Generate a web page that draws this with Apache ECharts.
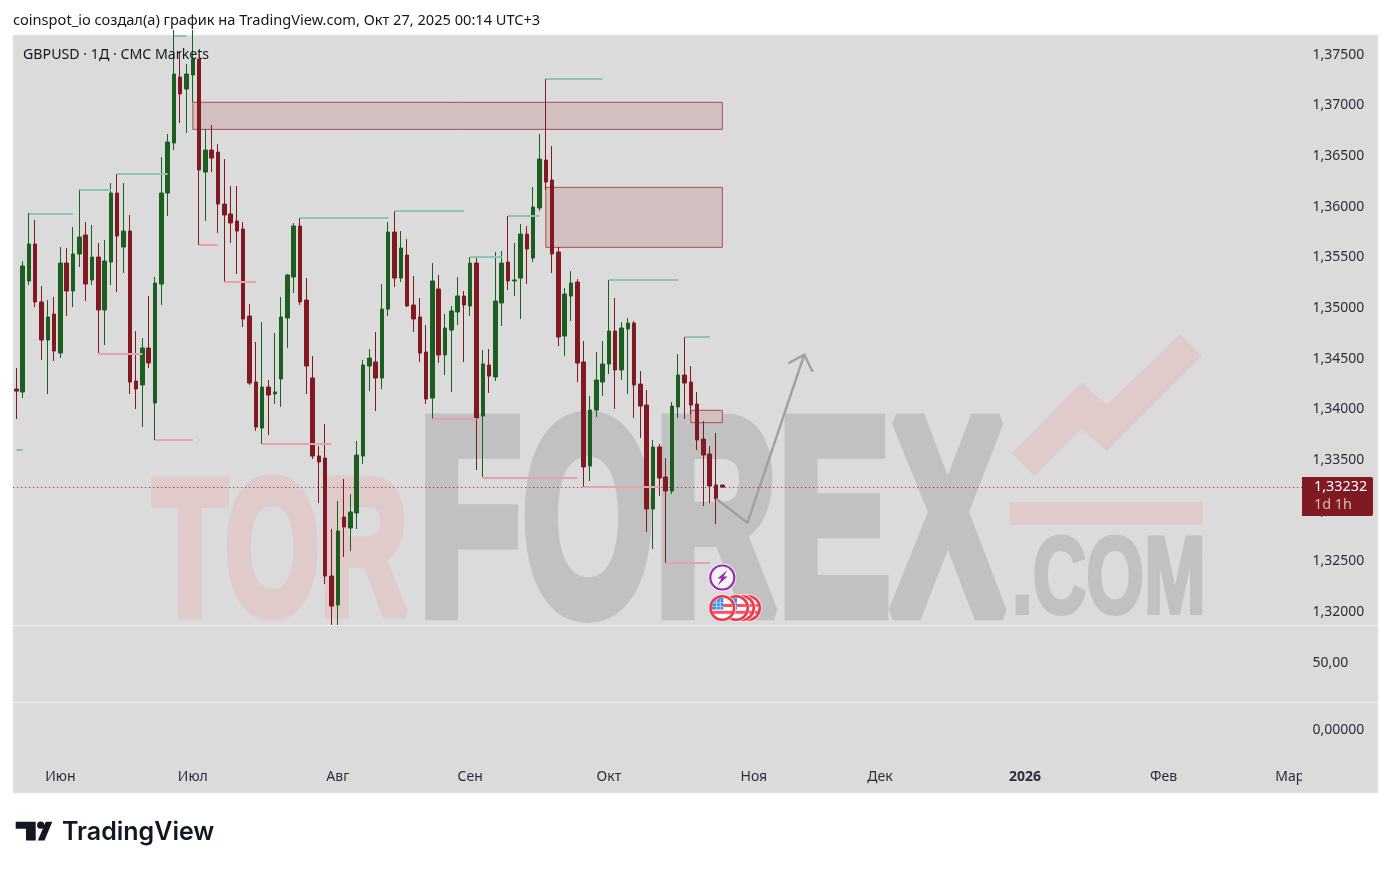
<!DOCTYPE html>
<html>
<head>
<meta charset="utf-8">
<title>GBPUSD</title>
<script src="https://cdn.jsdelivr.net/npm/echarts@6/dist/echarts.min.js"></script>
<style>
  html, body { margin: 0; padding: 0; background: #fff; }
  #chart { width: 1391px; height: 869px; }
</style>
</head>
<body>
<div id="chart"></div>
<script>
// daily bars, 22 May 2025 .. 27 Oct 2025
const opens = [
  1.34200,1.34171,1.35266,1.35631,1.35059,1.34684,1.34940,1.34555,1.35443,1.35167,1.35532,1.35720,
  1.35276,1.35502,1.34980,1.35453,1.36134,1.35601,1.35759,1.34279,1.34240,1.34605,1.34062,1.35236,
  1.36134,1.36627,1.37278,1.37160,1.37298,1.37456,1.36341,1.36558,1.36538,1.36025,1.35927,1.35858,
  1.35779,1.34920,1.34269,1.33815,1.34220,1.34151,1.34299,1.34901,1.35305,1.35808,1.35078,1.34309,
  1.33539,1.33519,1.32355,1.32069,1.32937,1.32829,1.32977,1.33539,1.34427,1.34467,1.34309,1.34989,
  1.35749,1.35295,1.35522,1.35029,1.34911,1.34565,1.34111,1.35187,1.34536,1.34782,1.34960,1.35118,
  1.35019,1.35443,1.33934,1.34437,1.34319,1.35049,1.35453,1.35266,1.35295,1.35729,1.35493,1.35986,
  1.36459,1.36262,1.35552,1.34723,1.35118,1.35256,1.34467,1.33440,1.33993,1.34269,1.34447,1.34772,
  1.34388,1.34792,1.34851,1.34249,1.34042,1.33016,1.33628,1.33332,1.33194,1.34023,1.34338,1.34269,
  1.34052,1.33707,1.33559,1.33253,1.33253
];
const closes = [
  1.34180,1.35414,1.35631,1.35059,1.34684,1.34911,1.34575,1.35443,1.35167,1.35532,1.35700,1.35236,
  1.35502,1.34980,1.35463,1.36134,1.35710,1.35759,1.34269,1.34200,1.34605,1.34457,1.35246,1.36134,
  1.36637,1.37308,1.37111,1.37308,1.37456,1.36361,1.36558,1.36479,1.36025,1.35917,1.35838,1.35759,
  1.34891,1.34259,1.33825,1.34220,1.34141,1.34171,1.34911,1.35325,1.35808,1.35059,1.34427,1.33539,
  1.33480,1.32355,1.32059,1.32799,1.32839,1.32987,1.33549,1.34437,1.34506,1.34309,1.34989,1.35749,
  1.35295,1.35591,1.35019,1.34891,1.34555,1.34102,1.35266,1.34536,1.34802,1.34970,1.35118,1.35029,
  1.35443,1.33914,1.34447,1.34328,1.35068,1.35443,1.35266,1.35276,1.35729,1.35581,1.35996,1.36469,
  1.36242,1.35532,1.34713,1.35137,1.35246,1.34457,1.33431,1.33993,1.34289,1.34447,1.34772,1.34388,
  1.34802,1.34851,1.34240,1.34032,1.33016,1.33628,1.33322,1.33194,1.34032,1.34338,1.34259,1.34042,
  1.33697,1.33549,1.33243,1.33115,1.33232
];
const lows = [
  1.33904,1.34111,1.35226,1.35009,1.34486,1.34151,1.34476,1.34506,1.34920,1.35009,1.35404,1.35068,
  1.35226,1.34555,1.34634,1.35226,1.35157,1.35345,1.34151,1.34003,1.33825,1.34407,1.33697,1.35029,
  1.35907,1.36558,1.36825,1.36726,1.37032,1.35621,1.35858,1.36341,1.35739,1.35256,1.35641,1.35335,
  1.34812,1.34240,1.33786,1.33658,1.33746,1.34052,1.34023,1.34605,1.35147,1.35029,1.34151,1.33510,
  1.33075,1.32276,1.31872,1.31872,1.32543,1.32602,1.32819,1.33460,1.34180,1.33983,1.34200,1.34920,
  1.35206,1.35256,1.35009,1.34762,1.34467,1.34052,1.33904,1.34457,1.34338,1.34171,1.34832,1.34467,
  1.34920,1.33401,1.33332,1.34161,1.34279,1.34822,1.35177,1.35118,1.34891,1.35236,1.35453,1.35956,
  1.36164,1.35345,1.34624,1.34526,1.34871,1.34269,1.33233,1.33292,1.33924,1.34131,1.34348,1.34003,
  1.34289,1.34151,1.33914,1.33717,1.32789,1.32622,1.33145,1.32483,1.33164,1.33914,1.33904,1.33954,
  1.33598,1.33046,1.33075,1.32868,1.33232
];
const highs = [
  1.34407,1.35463,1.35937,1.35868,1.35216,1.35078,1.35108,1.35601,1.35591,1.35798,1.36173,1.35848,
  1.35818,1.35641,1.35670,1.36233,1.36321,1.36233,1.35917,1.34772,1.34703,1.35118,1.35305,1.36489,
  1.36716,1.37742,1.37525,1.37407,1.37742,1.37456,1.36765,1.36805,1.36617,1.36469,1.36203,1.36203,
  1.35848,1.35039,1.34664,1.34861,1.34289,1.34753,1.35108,1.35335,1.35838,1.35887,1.35295,1.34526,
  1.33638,1.33855,1.32819,1.33095,1.33312,1.33164,1.33687,1.34486,1.34595,1.34762,1.35236,1.35848,
  1.35956,1.35759,1.35680,1.35315,1.35098,1.34832,1.35443,1.35325,1.34940,1.35019,1.35305,1.35167,
  1.35502,1.35493,1.34585,1.34595,1.35552,1.35562,1.35907,1.35641,1.35828,1.35808,1.36193,1.36716,
  1.37259,1.36598,1.35601,1.35197,1.35364,1.35285,1.34674,1.34131,1.34565,1.34674,1.35276,1.35098,
  1.34861,1.34901,1.34871,1.34378,1.34190,1.33697,1.33658,1.33519,1.34072,1.34545,1.34713,1.34427,
  1.34171,1.33884,1.33638,1.33766,1.33253
];

// swing levels drawn on the chart: first bar, last bar, price
const highLevelFrom = [2,10,16,25,45,60,72,78,84,94,106,0];
const highLevelTo = [9,15,24,27,59,71,77,83,93,105,110,1];
const highLevelPrice = [1.35930,1.36170,1.36321,1.37683,1.35887,1.35956,1.35502,1.35907,1.37259,1.35276,1.34713,1.33603];
const lowLevelFrom = [13,22,29,33,39,66,74,90,103];
const lowLevelTo = [20,28,32,38,50,73,89,102,110];
const lowLevelPrice = [1.34552,1.33700,1.35621,1.35259,1.33658,1.33904,1.33329,1.33236,1.32490];

// supply zones
const zoneFrom = [28,84,107];
const zoneTo = [112,112,112];
const zoneTop = [1.37029,1.36190,1.33990];
const zoneBottom = [1.36762,1.35598,1.33868];

// forecast arrow
const arrowBars = [111,116,125];
const arrowPrices = [1.33118,1.32881,1.34539];

const lastPrice = 1.33232;
const priceTicks = [1.32,1.325,1.33,1.335,1.34,1.345,1.35,1.355,1.36,1.365,1.37,1.375];
const priceMin = 1.31867;
const priceMax = 1.37693;

const monthBars = [7,28,51,72,94,117,137,160,182,202];
const monthNames = ['Июн','Июл','Авг','Сен','Окт','Ноя','Дек','2026','Фев','Мар'];
const barCount = 205;

const UP = '#1b5e20';
const DOWN = '#801922';
const BG = '#dbdbdb';
const FONT = '"Noto Sans", sans-serif';
const TEXT = '#2a2e39';

// weekdays only, like the daily FX chart
const dates = [];
for (let d = new Date(Date.UTC(2025, 4, 22)); dates.length < barCount; d.setUTCDate(d.getUTCDate() + 1)) {
    if (d.getUTCDay() !== 0 && d.getUTCDay() !== 6) dates.push(d.toISOString().slice(0, 10));
}

const candles = opens.map((o, i) => [o, closes[i], lows[i], highs[i]]);
const priceText = v => v.toFixed(5).replace('.', ',');

function levelLines(from, to, price, color) {
    return from.map((f, i) => [
        { coord: [dates[f], price[i]], lineStyle: { color: color, width: 2, type: 'solid' } },
        { coord: [dates[to[i]], price[i]] }
    ]);
}

function flag(cx, cy) {
    return {
        type: 'group', x: cx, y: cy, z: 100,
        children: [
            { type: 'circle', shape: { r: 13.8 }, style: { fill: '#f0f0f0' } },
            { type: 'circle', shape: { r: 11.8 }, style: { fill: '#fff', stroke: '#f23645', lineWidth: 2.6 } },
            { type: 'rect', shape: { x: 0, y: -4, width: 9.8, height: 3 }, style: { fill: '#f7525f' } },
            { type: 'rect', shape: { x: -10, y: 2.8, width: 20, height: 3 }, style: { fill: '#f7525f' } },
            { type: 'polygon', shape: { points: [[1,-10],[1,1.5],[-10.4,1.5],[-9.8,-3.5],[-7,-7.5],[-3,-9.8]] }, style: { fill: '#3f8ceb' } },
            { type: 'rect', shape: { x: -9, y: -5.5, width: 10, height: 0.8 }, style: { fill: '#cfe3fb' } },
            { type: 'rect', shape: { x: -9, y: -2, width: 10, height: 0.8 }, style: { fill: '#cfe3fb' } },
            { type: 'rect', shape: { x: -6, y: -9, width: 0.8, height: 10 }, style: { fill: '#cfe3fb' } },
            { type: 'rect', shape: { x: -2.5, y: -9, width: 0.8, height: 10 }, style: { fill: '#cfe3fb' } }
        ]
    };
}

const chart = echarts.init(document.getElementById('chart'));

const watermark = [
    { type: 'rect', z: -10, shape: { x: 13, y: 35, width: 1365, height: 758 }, style: { fill: BG, stroke: '#ececec', lineWidth: 1 } },
    { type: 'text', z: -9, x: 153, y: 657, scaleX: 0.63, style: { text: 'TOR', font: 'bold 193px "Liberation Sans"', fill: '#e0cbca', stroke: '#e0cbca', lineWidth: 10, align: 'left', verticalAlign: 'bottom' } },
    { type: 'text', z: -9, x: 418, y: 676, scaleX: 0.608, style: { text: 'FOREX', font: 'bold 280px "Liberation Sans"', fill: '#c1c1c1', stroke: '#c1c1c1', lineWidth: 14, align: 'left', verticalAlign: 'bottom' } },
    { type: 'text', z: -9, x: 1012, y: 638, scaleX: 0.675, style: { text: '.COM', font: 'bold 110px "Liberation Sans"', fill: '#c1c1c1', stroke: '#c1c1c1', lineWidth: 4, align: 'left', verticalAlign: 'bottom' } },
    { type: 'rect', z: -9, shape: { x: 1010, y: 502, width: 193, height: 23 }, style: { fill: '#e0cbca' } },
    { type: 'polygon', z: -9, shape: { points: [[1011.7,453.3],[1081.7,382.3],[1106.7,405],[1180,334],[1202,356],[1106.7,451],[1081.7,429],[1034.3,476]] }, style: { fill: '#e0cbca' } }
];

const overlay = [
    // pane separators
    { type: 'line', z: 1, shape: { x1: 13, y1: 625.5, x2: 1378, y2: 625.5 }, style: { stroke: '#f0f0f0', lineWidth: 1 } },
    { type: 'line', z: 1, shape: { x1: 13, y1: 702.5, x2: 1378, y2: 702.5 }, style: { stroke: '#f0f0f0', lineWidth: 1 } },
    // time scale is cut by the price scale
    { type: 'rect', z: 90, shape: { x: 1302, y: 766, width: 75, height: 26 }, style: { fill: BG } },
    // arrow head
    { type: 'polyline', z: 20, shape: { points: [[788.3,363.3],[804.3,354.7],[812.7,371.7]] }, style: { stroke: '#a0a0a0', lineWidth: 2.4, fill: null } },
    // last price tag
    { type: 'rect', z: 100, shape: { x: 1302, y: 477, width: 71, height: 39, r: [0, 2, 2, 0] }, style: { fill: DOWN } },
    { type: 'text', z: 101, x: 1314, y: 487, style: { text: priceText(lastPrice), font: '14.4px ' + FONT, fill: '#fff', align: 'left', verticalAlign: 'middle' } },
    { type: 'text', z: 101, x: 1314, y: 505, style: { text: '1d 1h', font: '14.4px ' + FONT, fill: '#d6bcbe', align: 'left', verticalAlign: 'middle' } },
    // event icons
    flag(748, 608), flag(742, 608), flag(736, 608), flag(722.3, 608),
    { type: 'circle', z: 100, shape: { cx: 722.3, cy: 577.5, r: 14 }, style: { fill: '#f0f0f0' } },
    { type: 'circle', z: 100, shape: { cx: 722.3, cy: 577.5, r: 12 }, style: { fill: '#f4f4f4', stroke: '#9c27b0', lineWidth: 2.2 } },
    { type: 'polygon', z: 101, shape: { points: [[727.5,570],[717.5,578.5],[721.5,578.5],[717.5,585.5],[727.5,576.5],[723.5,576.5]] }, style: { fill: '#9c27b0' } },
    // header and footer
    { type: 'text', x: 13, y: 21, style: { text: 'coinspot_io создал(а) график на TradingView.com, Окт 27, 2025 00:14 UTC+3', font: '14.6px ' + FONT, fill: '#131722', align: 'left', verticalAlign: 'middle' } },
    { type: 'text', z: 60, x: 23, y: 55, style: { text: 'GBPUSD · 1Д · CMC Markets', font: '14.2px ' + FONT, fill: '#131722', align: 'left', verticalAlign: 'middle' } },
    // TradingView logo
    { type: 'polygon', shape: { points: [[15.7,821.7],[35.7,821.7],[35.7,840.5],[26,840.5],[26,828.7],[15.7,828.7]] }, style: { fill: '#131722' } },
    { type: 'circle', shape: { cx: 40.7, cy: 825.2, r: 3.6 }, style: { fill: '#131722' } },
    { type: 'polygon', shape: { points: [[45.7,821.7],[52.3,821.7],[44.5,840.5],[37.8,840.5]] }, style: { fill: '#131722' } },
    { type: 'text', x: 62, y: 832, style: { text: 'TradingView', font: '600 25px Inter, sans-serif', fill: '#131722', align: 'left', verticalAlign: 'middle' } }
];

const gridLeft = 13.15;
const gridWidth = 1292.3;

chart.setOption({
    animation: false,
    backgroundColor: '#fff',
    grid: [
        { left: gridLeft, width: gridWidth, top: 35, height: 590.5 },
        { left: gridLeft, width: gridWidth, top: 625, height: 76 },
        { left: gridLeft, width: gridWidth, top: 697, height: 66 }
    ],
    xAxis: [0, 1, 2].map(i => ({
        type: 'category',
        gridIndex: i,
        data: dates,
        axisLine: { show: false },
        axisTick: { show: false },
        splitLine: { show: false },
        axisLabel: i < 2 ? { show: false } : {
            show: true,
            margin: 7,
            fontSize: 14,
            fontFamily: FONT,
            color: TEXT,
            interval: idx => monthBars.includes(idx),
            formatter: (value, idx) => {
                const name = monthNames[monthBars.indexOf(idx)];
                return name === '2026' ? '{b|2026}' : name;
            },
            rich: { b: { fontWeight: 'bold', fontSize: 14, fontFamily: FONT, color: TEXT } }
        }
    })),
    yAxis: [
        {
            gridIndex: 0, position: 'right', scale: true, min: priceMin, max: priceMax,
            axisLine: { show: false }, axisTick: { show: false }, splitLine: { show: false },
            axisLabel: { margin: 7, fontSize: 14, fontFamily: FONT, color: TEXT, customValues: priceTicks, formatter: v => priceText(v) }
        },
        {
            gridIndex: 1, position: 'right', min: 0, max: 100,
            axisLine: { show: false }, axisTick: { show: false }, splitLine: { show: false },
            axisLabel: { margin: 7, fontSize: 14, fontFamily: FONT, color: TEXT, customValues: [50], formatter: v => v.toFixed(2).replace('.', ',') }
        },
        {
            gridIndex: 2, position: 'right', min: -1, max: 1,
            axisLine: { show: false }, axisTick: { show: false }, splitLine: { show: false },
            axisLabel: { margin: 7, fontSize: 14, fontFamily: FONT, color: TEXT, customValues: [0], formatter: v => priceText(v) }
        }
    ],
    series: [
        {
            type: 'candlestick',
            xAxisIndex: 0,
            yAxisIndex: 0,
            barWidth: 4,
            data: candles,
            itemStyle: { color: UP, color0: DOWN, borderColor: UP, borderColor0: DOWN, borderWidth: 1 },
            markArea: {
                silent: true,
                z: 1,
                data: zoneFrom.map((f, i) => [
                    { coord: [dates[f], zoneTop[i]], itemStyle: { color: '#d2bfc0', borderColor: '#ac4d50', borderWidth: 1 } },
                    { coord: [dates[zoneTo[i]], zoneBottom[i]] }
                ])
            },
            markLine: {
                silent: true,
                precision: 5,
                symbol: ['none', 'none'],
                label: { show: false },
                animation: false,
                data: [
                    { yAxis: lastPrice, lineStyle: { color: DOWN, width: 1, type: [1, 3] } },
                    ...levelLines(highLevelFrom, highLevelTo, highLevelPrice, '#8cc4b8'),
                    ...levelLines(lowLevelFrom, lowLevelTo, lowLevelPrice, '#e8a3a8')
                ]
            }
        },
        {
            type: 'line',
            xAxisIndex: 0,
            yAxisIndex: 0,
            showSymbol: false,
            z: 3,
            lineStyle: { color: '#a0a0a0', width: 2.4 },
            data: arrowBars.map((b, i) => [dates[b], arrowPrices[i]])
        }
    ],
    graphic: { elements: watermark.concat(overlay) }
});
</script>
</body>
</html>
